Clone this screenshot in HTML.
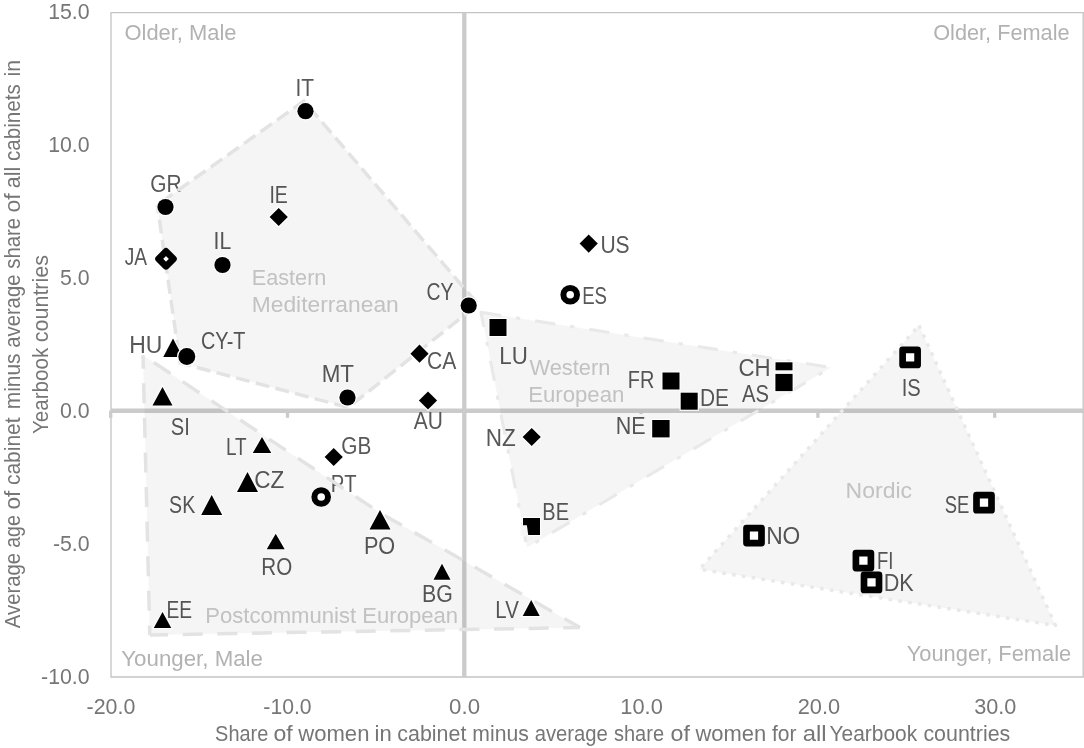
<!DOCTYPE html>
<html lang="en"><head><meta charset="utf-8"><title>Cabinet age and share of women</title>
<style>
html,body{margin:0;padding:0;background:#fff;}
body{width:1084px;height:748px;overflow:hidden;}
svg{display:block;font-family:"Liberation Sans", sans-serif;filter:blur(0.55px);}
.tick{fill:#767676;}
.title{fill:#767676;}
.lab{fill:#585858;}
.quad{fill:#b2b2b2;}
.reg{fill:#cacaca;}
.poly{fill:rgba(0,0,0,0.04);stroke:#e3e3e3;stroke-width:3.5;stroke-linejoin:round;}
.mk{fill:#000;stroke:#fff;stroke-width:2.2;paint-order:stroke;}
.mkw{fill:#000;stroke:#fff;stroke-width:2.6;paint-order:stroke;}
.open{fill:#fff;stroke:#000;}
</style></head><body>
<svg width="1084" height="748" viewBox="0 0 1084 748">
<rect width="1084" height="748" fill="#fff"/>

<g id="frame" fill="none" stroke="#c4c4c4" stroke-width="1.3">
<path d="M111 677 V12.6 H1083.2 V677 Z"/>
</g>
<g id="axes" stroke="#cbcbcb" fill="none">
<line x1="111" y1="410.7" x2="1083" y2="410.7" stroke-width="4.4"/>
<line x1="464.3" y1="12.6" x2="464.3" y2="677" stroke-width="4.3"/>
<line x1="110.7" y1="410.6" x2="110.7" y2="417.8" stroke-width="3.3"/>
<line x1="287.5" y1="410.6" x2="287.5" y2="417.8" stroke-width="3.3"/>
<line x1="641.1" y1="410.6" x2="641.1" y2="414" stroke-width="3.3"/>
<line x1="817.9" y1="410.6" x2="817.9" y2="417.8" stroke-width="3.3"/>
<line x1="994.7" y1="410.6" x2="994.7" y2="417.8" stroke-width="3.3"/>
</g>
<g id="ticks" class="tick">
<text x="89.6" y="18.8" font-size="21.3" text-anchor="end">15.0</text>
<text x="89.6" y="151.8" font-size="21.3" text-anchor="end">10.0</text>
<text x="89.6" y="284.8" font-size="21.3" text-anchor="end">5.0</text>
<text x="89.6" y="417.8" font-size="21.3" text-anchor="end">0.0</text>
<text x="89.6" y="550.8" font-size="21.3" text-anchor="end">-5.0</text>
<text x="89.6" y="683.8" font-size="21.3" text-anchor="end">-10.0</text>
<text x="86.56" y="713.7" font-size="21.3" textLength="48.76" lengthAdjust="spacingAndGlyphs">-20.0</text>
<text x="263.37" y="713.7" font-size="21.3" textLength="48.24" lengthAdjust="spacingAndGlyphs">-10.0</text>
<text x="449.13" y="713.7" font-size="21.3" textLength="30.92" lengthAdjust="spacingAndGlyphs">0.0</text>
<text x="620.34" y="713.7" font-size="21.3" textLength="42.50" lengthAdjust="spacingAndGlyphs">10.0</text>
<text x="797.71" y="713.7" font-size="21.3" textLength="42.42" lengthAdjust="spacingAndGlyphs">20.0</text>
<text x="974.18" y="713.7" font-size="21.3" textLength="42.15" lengthAdjust="spacingAndGlyphs">30.0</text>
</g>
<g id="titles" class="title">
<text x="215.10" y="740.7" font-size="21.3" textLength="53.18" lengthAdjust="spacingAndGlyphs">Share</text>
<text x="273.53" y="740.7" font-size="21.3" textLength="19.22" lengthAdjust="spacingAndGlyphs">of</text>
<text x="298.34" y="740.7" font-size="21.3" textLength="71.06" lengthAdjust="spacingAndGlyphs">women</text>
<text x="374.54" y="740.7" font-size="21.3" textLength="17.18" lengthAdjust="spacingAndGlyphs">in</text>
<text x="397.30" y="740.7" font-size="21.3" textLength="69.04" lengthAdjust="spacingAndGlyphs">cabinet</text>
<text x="472.30" y="740.7" font-size="21.3" textLength="56.45" lengthAdjust="spacingAndGlyphs">minus</text>
<text x="534.65" y="740.7" font-size="21.3" textLength="73.24" lengthAdjust="spacingAndGlyphs">average</text>
<text x="613.96" y="740.7" font-size="21.3" textLength="50.13" lengthAdjust="spacingAndGlyphs">share</text>
<text x="670.63" y="740.7" font-size="21.3" textLength="19.33" lengthAdjust="spacingAndGlyphs">of</text>
<text x="695.44" y="740.7" font-size="21.3" textLength="70.75" lengthAdjust="spacingAndGlyphs">women</text>
<text x="772.01" y="740.7" font-size="21.3" textLength="24.53" lengthAdjust="spacingAndGlyphs">for</text>
<text x="802.70" y="740.7" font-size="21.3" textLength="23.89" lengthAdjust="spacingAndGlyphs">all</text>
<text x="829.54" y="740.7" font-size="21.3" textLength="87.62" lengthAdjust="spacingAndGlyphs">Yearbook</text>
<text x="923.40" y="740.7" font-size="21.3" textLength="86.86" lengthAdjust="spacingAndGlyphs">countries</text>
<text transform="translate(19.6 628.1) rotate(-90)" x="-0.04" y="0" font-size="21.3" textLength="75.14" lengthAdjust="spacingAndGlyphs">Average</text>
<text transform="translate(19.6 547.0) rotate(-90)" x="-0.82" y="0" font-size="21.3" textLength="32.69" lengthAdjust="spacingAndGlyphs">age</text>
<text transform="translate(19.6 508.6) rotate(-90)" x="-0.95" y="0" font-size="21.3" textLength="18.91" lengthAdjust="spacingAndGlyphs">of</text>
<text transform="translate(19.6 484.20000000000005) rotate(-90)" x="-0.88" y="0" font-size="21.3" textLength="67.72" lengthAdjust="spacingAndGlyphs">cabinet</text>
<text transform="translate(19.6 407.8) rotate(-90)" x="-1.38" y="0" font-size="21.3" textLength="55.62" lengthAdjust="spacingAndGlyphs">minus</text>
<text transform="translate(19.6 346.90000000000003) rotate(-90)" x="-0.85" y="0" font-size="21.3" textLength="73.14" lengthAdjust="spacingAndGlyphs">average</text>
<text transform="translate(19.6 268.1) rotate(-90)" x="-0.55" y="0" font-size="21.3" textLength="50.75" lengthAdjust="spacingAndGlyphs">share</text>
<text transform="translate(19.6 211.6) rotate(-90)" x="-0.96" y="0" font-size="21.3" textLength="19.12" lengthAdjust="spacingAndGlyphs">of</text>
<text transform="translate(19.6 187.29999999999998) rotate(-90)" x="-0.90" y="0" font-size="21.3" textLength="21.42" lengthAdjust="spacingAndGlyphs">all</text>
<text transform="translate(19.6 160.1) rotate(-90)" x="-0.87" y="0" font-size="21.3" textLength="76.80" lengthAdjust="spacingAndGlyphs">cabinets</text>
<text transform="translate(19.6 75.1) rotate(-90)" x="-1.40" y="0" font-size="21.3" textLength="16.46" lengthAdjust="spacingAndGlyphs">in</text>
<text transform="translate(47.8 433.6) rotate(-90)" x="-0.45" y="0" font-size="21.3" textLength="86.31" lengthAdjust="spacingAndGlyphs">Yearbook</text>
<text transform="translate(47.8 341.3) rotate(-90)" x="-0.90" y="0" font-size="21.3" textLength="87.17" lengthAdjust="spacingAndGlyphs">countries</text>
</g>
<g id="labels" class="lab">
<text x="295.57" y="95.5" font-size="23" textLength="18.60" lengthAdjust="spacingAndGlyphs">IT</text>
<text x="150.16" y="191.7" font-size="23" textLength="31.30" lengthAdjust="spacingAndGlyphs">GR</text>
<text x="269.41" y="202.5" font-size="23" textLength="18.41" lengthAdjust="spacingAndGlyphs">IE</text>
<text x="124.71" y="265.0" font-size="23" textLength="22.33" lengthAdjust="spacingAndGlyphs">JA</text>
<text x="213.55" y="249.2" font-size="23" textLength="17.64" lengthAdjust="spacingAndGlyphs">IL</text>
<text x="426.53" y="300.0" font-size="23" textLength="26.90" lengthAdjust="spacingAndGlyphs">CY</text>
<text x="129.32" y="353.0" font-size="23" textLength="33.13" lengthAdjust="spacingAndGlyphs">HU</text>
<text x="201.01" y="349.2" font-size="23" textLength="44.45" lengthAdjust="spacingAndGlyphs">CY-T</text>
<text x="321.66" y="381.7" font-size="23" textLength="32.35" lengthAdjust="spacingAndGlyphs">MT</text>
<text x="426.95" y="368.5" font-size="23" textLength="29.30" lengthAdjust="spacingAndGlyphs">CA</text>
<text x="413.66" y="428.5" font-size="23" textLength="29.14" lengthAdjust="spacingAndGlyphs">AU</text>
<text x="170.79" y="435.0" font-size="23" textLength="19.06" lengthAdjust="spacingAndGlyphs">SI</text>
<text x="225.95" y="455.0" font-size="23" textLength="20.68" lengthAdjust="spacingAndGlyphs">LT</text>
<text x="341.26" y="454.4" font-size="23" textLength="30.02" lengthAdjust="spacingAndGlyphs">GB</text>
<text x="254.37" y="488.0" font-size="23" textLength="30.02" lengthAdjust="spacingAndGlyphs">CZ</text>
<text x="330.84" y="491.7" font-size="23" textLength="25.82" lengthAdjust="spacingAndGlyphs">PT</text>
<text x="169.12" y="512.5" font-size="23" textLength="26.10" lengthAdjust="spacingAndGlyphs">SK</text>
<text x="363.92" y="553.5" font-size="23" textLength="31.31" lengthAdjust="spacingAndGlyphs">PO</text>
<text x="261.31" y="575.2" font-size="23" textLength="30.88" lengthAdjust="spacingAndGlyphs">RO</text>
<text x="421.95" y="601.7" font-size="23" textLength="30.82" lengthAdjust="spacingAndGlyphs">BG</text>
<text x="166.43" y="617.5" font-size="23" textLength="25.58" lengthAdjust="spacingAndGlyphs">EE</text>
<text x="495.33" y="617.5" font-size="23" textLength="23.45" lengthAdjust="spacingAndGlyphs">LV</text>
<text x="600.38" y="253.0" font-size="23" textLength="29.27" lengthAdjust="spacingAndGlyphs">US</text>
<text x="582.17" y="303.5" font-size="23" textLength="24.87" lengthAdjust="spacingAndGlyphs">ES</text>
<text x="499.37" y="363.5" font-size="23" textLength="28.53" lengthAdjust="spacingAndGlyphs">LU</text>
<text x="627.87" y="387.7" font-size="23" textLength="26.55" lengthAdjust="spacingAndGlyphs">FR</text>
<text x="699.89" y="405.5" font-size="23" textLength="28.99" lengthAdjust="spacingAndGlyphs">DE</text>
<text x="738.39" y="375.5" font-size="23" textLength="32.12" lengthAdjust="spacingAndGlyphs">CH</text>
<text x="741.96" y="401.7" font-size="23" textLength="26.95" lengthAdjust="spacingAndGlyphs">AS</text>
<text x="615.74" y="433.5" font-size="23" textLength="29.87" lengthAdjust="spacingAndGlyphs">NE</text>
<text x="485.65" y="446.0" font-size="23" textLength="30.05" lengthAdjust="spacingAndGlyphs">NZ</text>
<text x="542.36" y="520.0" font-size="23" textLength="26.68" lengthAdjust="spacingAndGlyphs">BE</text>
<text x="901.64" y="396.0" font-size="23" textLength="19.06" lengthAdjust="spacingAndGlyphs">IS</text>
<text x="944.67" y="512.5" font-size="23" textLength="24.60" lengthAdjust="spacingAndGlyphs">SE</text>
<text x="766.13" y="543.5" font-size="23" textLength="34.16" lengthAdjust="spacingAndGlyphs">NO</text>
<text x="876.99" y="568.5" font-size="23" textLength="16.41" lengthAdjust="spacingAndGlyphs">FI</text>
<text x="883.73" y="591.2" font-size="23" textLength="30.01" lengthAdjust="spacingAndGlyphs">DK</text>
</g>
<g id="quadrants" class="quad">
<text x="124.47" y="39.5" font-size="22.4" textLength="112.10" lengthAdjust="spacingAndGlyphs">Older, Male</text>
<text x="933.18" y="39.5" font-size="22.4" textLength="136.38" lengthAdjust="spacingAndGlyphs">Older, Female</text>
<text x="121.31" y="666" font-size="22.4" textLength="141.67" lengthAdjust="spacingAndGlyphs">Younger, Male</text>
<text x="906.72" y="660.6" font-size="22.4" textLength="164.54" lengthAdjust="spacingAndGlyphs">Younger, Female</text>
</g>
<g id="regions" class="reg">
<text x="251.83" y="285.2" font-size="22" textLength="74.57" lengthAdjust="spacingAndGlyphs">Eastern</text>
<text x="251.73" y="312.4" font-size="22" textLength="147.04" lengthAdjust="spacingAndGlyphs">Mediterranean</text>
<text x="529.51" y="374.6" font-size="22" textLength="80.89" lengthAdjust="spacingAndGlyphs">Western</text>
<text x="528.18" y="401.6" font-size="22" textLength="96.14" lengthAdjust="spacingAndGlyphs">European</text>
<text x="845.61" y="497.7" font-size="22" textLength="66.48" lengthAdjust="spacingAndGlyphs">Nordic</text>
<text x="205.19" y="622.7" font-size="22" textLength="252.93" lengthAdjust="spacingAndGlyphs">Postcommunist European</text>
</g>
<g id="polygons">
<polygon class="poly" stroke-dashoffset="-4.7" stroke-dasharray="14 6.3" points="157.3,205 304,101 478,304.3 348.4,407.5 180,363"/>
<polygon class="poly" style="stroke:none" points="143,355.3 380,512.8 580,627.5 149.8,635"/>
<path class="poly" style="fill:none" stroke-dasharray="20 14.6" stroke-dashoffset="21.6" d="M143 355.3 L380 512.8 L580 627.5"/>
<path class="poly" style="fill:none" stroke-dasharray="20 14.6" stroke-dashoffset="1.7" d="M149.8 635 L580 627.5"/>
<path class="poly" style="fill:none" stroke-dasharray="20 14.6" stroke-dashoffset="6.6" d="M143 355.3 L149.8 635"/>
<polygon class="poly" style="stroke:#e9e9e9;stroke-width:3.1" stroke-dasharray="20.3 15.1 4.3 15.15" points="481,312.3 831,367.5 527,547.5"/>
<polygon class="poly" style="stroke:#e9e9e9;stroke-width:3.5" stroke-dasharray="3.6 6.3" points="919,325.5 1055.5,625.5 699.5,569.3"/>
</g>
<g id="markers">
<circle class="mk" cx="305.5" cy="111.2" r="8.1"/>
<circle class="mk" cx="165.5" cy="207" r="8.1"/>
<circle class="mk" cx="222.5" cy="265" r="8.1"/>
<circle class="mk" cx="468.7" cy="305.5" r="8.1"/>
<circle class="mk" cx="347.5" cy="397.5" r="8.1"/>
<path class="mk" d="M173 338.5 L182.75 357.0 L163.25 357.0 Z"/>
<circle class="mkw" cx="186.8" cy="356.5" r="8.5"/>
<path class="mk" d="M269.59999999999997 217 L278.7 207.9 L287.8 217 L278.7 226.1 Z"/>
<path class="mk" d="M410.4 353.7 L419.5 344.59999999999997 L428.6 353.7 L419.5 362.8 Z"/>
<path class="mk" d="M418.9 400.5 L428 391.4 L437.1 400.5 L428 409.6 Z"/>
<path class="mk" d="M324.59999999999997 457 L333.7 447.9 L342.8 457 L333.7 466.1 Z"/>
<path class="mk" d="M579.6 243.6 L588.7 234.5 L597.8000000000001 243.6 L588.7 252.7 Z"/>
<path class="mk" d="M522.6 437 L531.7 427.9 L540.8000000000001 437 L531.7 446.1 Z"/>
<path class="open" d="M158.5 258.8 L166 251.3 L173.5 258.8 L166 266.3 Z" stroke-width="6.6" stroke-linejoin="round"/>
<circle class="open" cx="570.2" cy="294.8" r="6.8" stroke-width="6.0"/>
<circle class="open" cx="321.2" cy="497" r="6.8" stroke-width="6.0"/>
<rect class="mk" x="489.5" y="319.0" width="17" height="17"/>
<rect class="mk" x="662.5" y="372.5" width="17" height="17"/>
<rect class="mk" x="680.7" y="392.7" width="17" height="17"/>
<rect class="mk" x="652.1999999999999" y="420.0" width="17.4" height="17.4"/>
<rect class="mk" x="523.0" y="518.0" width="17" height="17"/>
<rect class="mk" x="775.5" y="362.3" width="17" height="8"/>
<rect class="mkw" x="775.4" y="373.9" width="17.2" height="17.2"/>
<rect class="open" x="902.6" y="349.9" width="15" height="15" stroke-width="6.7" stroke-linejoin="round"/>
<rect class="open" x="976.5" y="495.2" width="15" height="15" stroke-width="6.7" stroke-linejoin="round"/>
<rect class="open" x="746.5" y="528.1" width="15" height="15" stroke-width="6.7" stroke-linejoin="round"/>
<rect class="open" x="855.9" y="553.1" width="15" height="15" stroke-width="6.7" stroke-linejoin="round"/>
<rect class="open" x="864.0" y="574.9" width="15" height="15" stroke-width="6.7" stroke-linejoin="round"/>
<path class="mk" d="M162.5 387 L172.5 405.5 L152.5 405.5 Z"/>
<path class="mk" d="M262 437 L271.25 453 L252.75 453 Z"/>
<path class="mk" d="M247.5 472 L258.0 492 L237.0 492 Z"/>
<path class="mk" d="M211.7 495 L222.2 515 L201.2 515 Z"/>
<path class="mk" d="M275.7 533.7 L284.7 549.2 L266.7 549.2 Z"/>
<path class="mk" d="M380 510 L390.5 529.5 L369.5 529.5 Z"/>
<path class="mk" d="M442 563.7 L450.5 579.7 L433.5 579.7 Z"/>
<path class="mk" d="M531.2 600 L539.7 616 L522.7 616 Z"/>
<path class="mk" d="M162.5 612 L171.25 628 L153.75 628 Z"/>
<path d="M520.6 525.3 L526.9 525.3 L528.4 536.2 L520.6 536.2 Z" fill="#f6f6f6"/>
</g>
</svg>
</body></html>
